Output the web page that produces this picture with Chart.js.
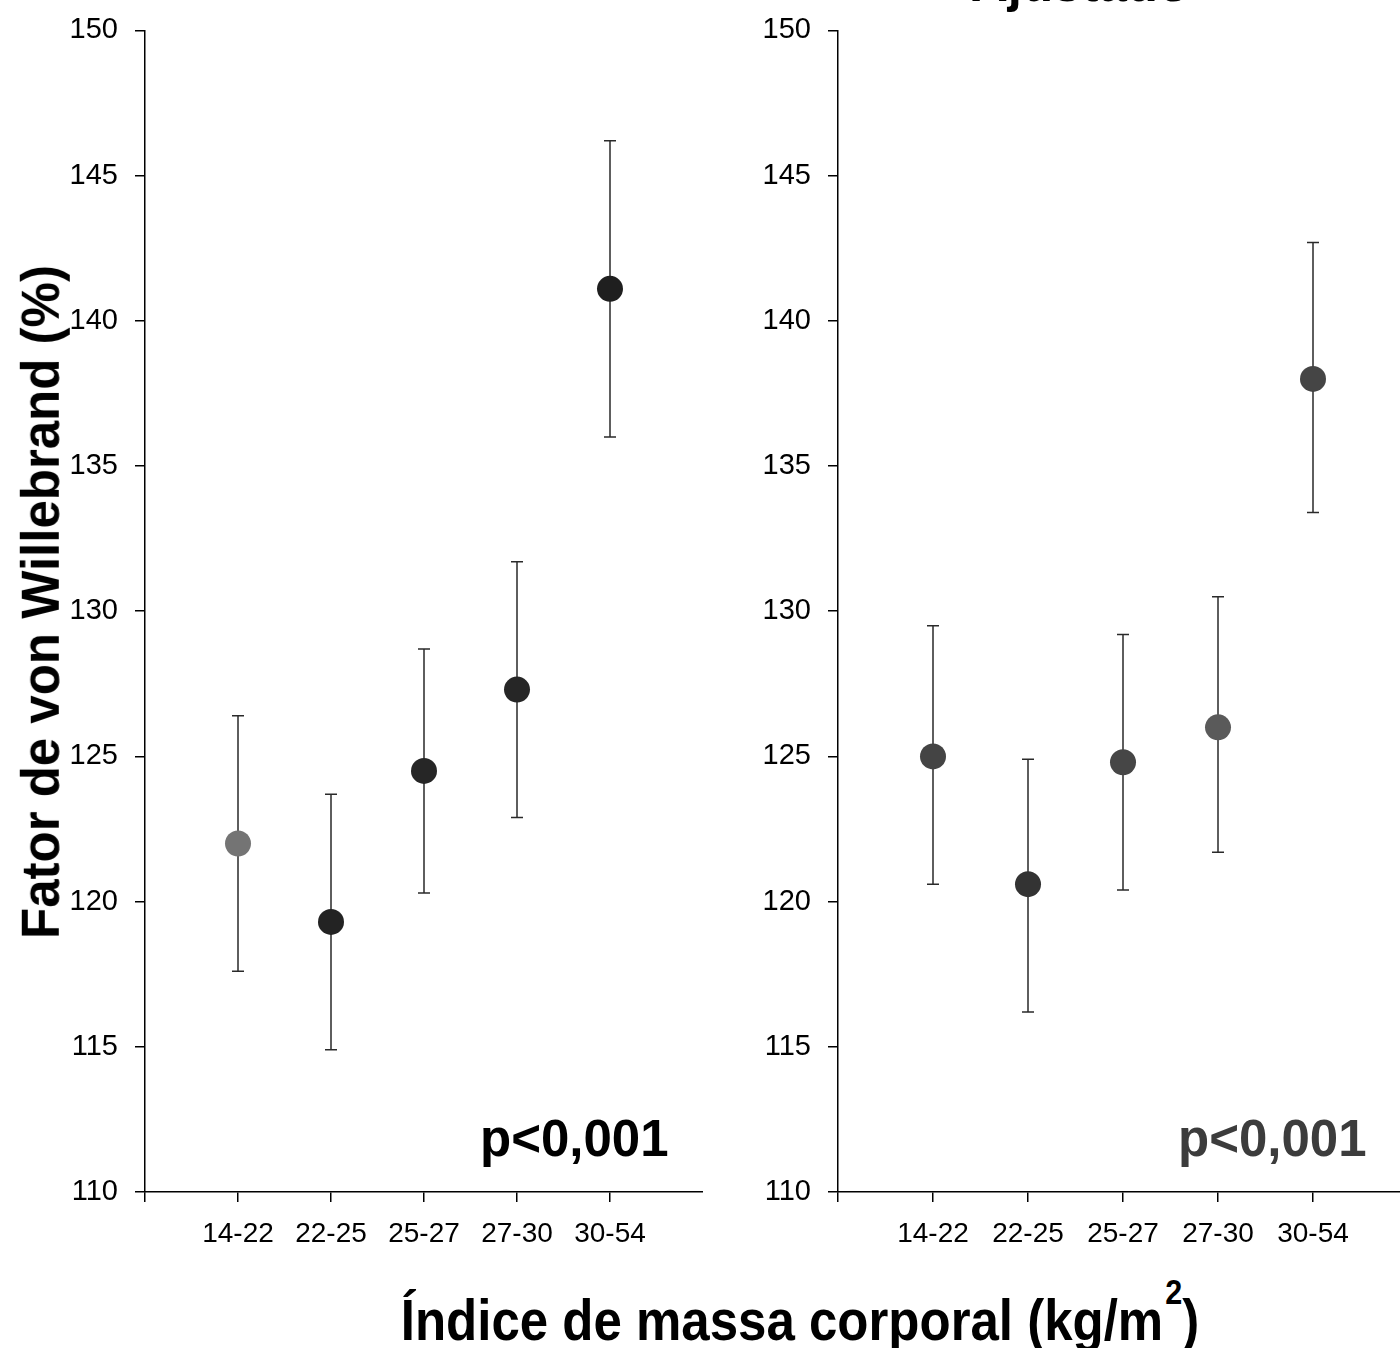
<!DOCTYPE html>
<html>
<head>
<meta charset="utf-8">
<script src="https://cdn.jsdelivr.net/npm/chart.js@4.4.1/dist/chart.umd.min.js"></script>
<style>
  html, body { margin: 0; padding: 0; background: #fff; }
  body { width: 1400px; height: 1348px; position: relative; overflow: hidden; font-family: "Liberation Sans", Arial, sans-serif; }
  canvas { position: absolute; top: -4px; }
  .lbl { position: absolute; white-space: nowrap; line-height: 1; font-weight: bold; color: #000; }
  #yTitle { left: 40px; top: 602px; font-size: 51px; transform: translate(-50%, -50%) rotate(-90deg) scale(1.0, 1.06); }
  #xTitle { left: 800px; top: 1297px; font-size: 51px; transform: translateX(-50%) scale(1, 1.12); transform-origin: 50% 85%; }
  #xTitle sup { font-size: 60%; position: relative; top: -1.05em; vertical-align: baseline; margin-left: 2px; }
  #panelTitle { left: 1080px; top: -42px; font-size: 51px; transform: translateX(-50%); }
  #pLeft { left: 480px; top: 1113px; font-size: 51px; }
  #pRight { left: 1178px; top: 1113px; font-size: 51px; color: #3c3c3c; }
</style>
</head>
<body>
<canvas id="crudeChart" width="703" height="1264" style="left:0px"></canvas>
<canvas id="adjChart" width="706" height="1264" style="left:702px"></canvas>

<div class="lbl" id="panelTitle">Ajustado</div>
<div class="lbl" id="yTitle">Fator de von Willebrand (%)</div>
<div class="lbl" id="xTitle">Índice de massa corporal (kg/m<sup>2</sup>)</div>
<div class="lbl" id="pLeft">p&lt;0,001</div>
<div class="lbl" id="pRight">p&lt;0,001</div>

<script>
// ------------------------------------------------------------
// DATA
// ------------------------------------------------------------
const categories = ['14-22', '22-25', '25-27', '27-30', '30-54'];
const yTicks = [110, 115, 120, 125, 130, 135, 140, 145, 150];

// left panel (unadjusted)
const crudeMean  = [122.0, 119.3, 124.5, 127.3, 141.1];
const crudeLower = [117.6, 114.9, 120.3, 122.9, 136.0];
const crudeUpper = [126.4, 123.7, 128.7, 131.7, 146.2];
const crudeColors = ['#747474', '#232323', '#262626', '#262626', '#1f1f1f'];

// right panel ("Ajustado")
const adjMean  = [125.0, 120.6, 124.8, 126.0, 138.0];
const adjLower = [120.6, 116.2, 120.4, 121.7, 133.4];
const adjUpper = [129.5, 124.9, 129.2, 130.5, 142.7];
const adjColors = ['#444444', '#333333', '#464646', '#5a5a5a', '#454545'];

// ------------------------------------------------------------
// error bars drawn under the markers
// ------------------------------------------------------------
const errorBarPlugin = {
  id: 'errorBars',
  beforeDatasetsDraw(chart, args, opts) {
    const { ctx, scales: { x, y } } = chart;
    ctx.save();
    ctx.strokeStyle = '#2a2a2a';
    ctx.lineWidth = 1.5;
    opts.lower.forEach((lo, i) => {
      const px = x.getPixelForValue(i + 1);
      const yTop = y.getPixelForValue(opts.upper[i]);
      const yBot = y.getPixelForValue(lo);
      ctx.beginPath();
      ctx.moveTo(px, yTop); ctx.lineTo(px, yBot);
      ctx.moveTo(px - 6, yTop); ctx.lineTo(px + 6, yTop);
      ctx.moveTo(px - 6, yBot); ctx.lineTo(px + 6, yBot);
      ctx.stroke();
    });
    ctx.restore();
  }
};

function buildScales(yWidth) {
  const axisGrid = { drawOnChartArea: false, drawTicks: true, tickLength: 10, color: '#000', lineWidth: 1.5 };
  const axisBorder = { display: true, color: '#000', width: 1.5 };
  return {
    x: {
      type: 'linear', min: 0, max: 6,
      afterBuildTicks: s => { s.ticks = [0, 1, 2, 3, 4, 5].map(v => ({ value: v })); },
      afterFit: s => { s.height = 68; },
      ticks: {
        callback: v => (v === 0 ? '' : categories[v - 1]),
        font: { family: 'Liberation Sans', size: 28 },
        color: '#000', padding: 15, maxRotation: 0, autoSkip: false
      },
      grid: axisGrid, border: axisBorder
    },
    y: {
      min: 110, max: 150,
      afterBuildTicks: s => { s.ticks = yTicks.map(v => ({ value: v })); },
      afterFit: s => { s.width = yWidth; },
      ticks: {
        font: { family: 'Liberation Sans', size: 29 },
        color: '#000', padding: 17
      },
      grid: axisGrid, border: axisBorder
    }
  };
}

function drawPanel(canvasId, mean, lower, upper, colors, yWidth) {
  new Chart(document.getElementById(canvasId), {
    type: 'scatter',
    data: {
      datasets: [{
        data: mean.map((v, i) => ({ x: i + 1, y: v })),
        backgroundColor: colors,
        borderColor: colors,
        borderWidth: 0,
        pointRadius: 13,
        pointHoverRadius: 13
      }]
    },
    options: {
      responsive: false,
      animation: false,
      devicePixelRatio: 1,
      layout: { autoPadding: false, padding: { top: 30, right: 0, left: 0, bottom: 0 } },
      plugins: {
        legend: { display: false },
        tooltip: { enabled: false },
        errorBars: { lower, upper }
      },
      scales: buildScales(yWidth)
    },
    plugins: [errorBarPlugin]
  });
}

drawPanel('crudeChart', crudeMean, crudeLower, crudeUpper, crudeColors, 145);
drawPanel('adjChart', adjMean, adjLower, adjUpper, adjColors, 136);
</script>
</body>
</html>
